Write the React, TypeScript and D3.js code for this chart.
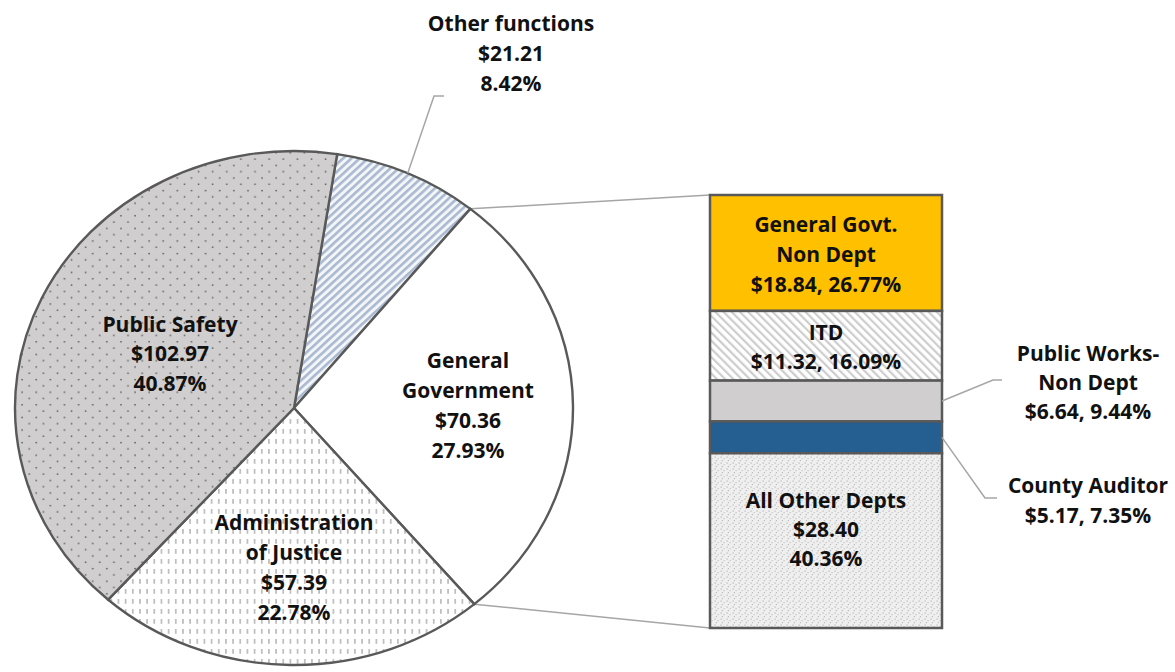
import React from "react";
import * as d3 from "d3";

// ---- data ----
const pieCategories = ["Other functions", "General Government", "Administration of Justice", "Public Safety"];
const pieValues = [21.21, 70.36, 57.39, 102.97];
const pieValueLabels = ["$21.21", "$70.36", "$57.39", "$102.97"];
const piePctLabels = ["8.42%", "27.93%", "22.78%", "40.87%"];

const barCategories = ["General Govt. Non Dept", "ITD", "Public Works-Non Dept", "County Auditor", "All Other Depts"];
const barValues = [18.84, 11.32, 6.64, 5.17, 28.4];
const barValueLabels = ["$18.84", "$11.32", "$6.64", "$5.17", "$28.40"];
const barPctLabels = ["26.77%", "16.09%", "9.44%", "7.35%", "40.36%"];

// ---- layout ----
const W = 1175, H = 672;
const cx = 294, cy = 408, ry = 257, rx = 279;
const startDeg = 8.9;
const barX0 = 710, barX1 = 942, barY0 = 195, barY1 = 628;
const FONT = "'Open Sans', sans-serif";
const FS = 21;

const pieFills = ["url(#pStripeBlue)", "#ffffff", "url(#pDash)", "url(#pDots)"];
const barFills = ["#ffc000", "url(#pStripeGray)", "#d0cece", "#255e91", "url(#pSpeckle)"];

function Lines({ x, y, lines, gap = 30 }: { x: number; y: number; lines: string[]; gap?: number }) {
  return (
    <text x={x} y={y} textAnchor="middle" fontFamily={FONT} fontWeight={700} fontSize={FS} fill="#111">
      {lines.map((l, i) => (
        <tspan key={i} x={x} y={y + i * gap} dy="0.36em">
          {l}
        </tspan>
      ))}
    </text>
  );
}

export default function App() {
  const start = (startDeg * Math.PI) / 180;
  const pie = d3.pie<number>().sort(null).value((d) => d).startAngle(start).endAngle(start + 2 * Math.PI);
  const arcs = pie(pieValues);
  const arcGen = d3.arc<d3.PieArcDatum<number>>().innerRadius(0).outerRadius(ry);
  const sx = rx / ry;
  const pt = (a: number) => [cx + rx * Math.sin(a), cy - ry * Math.cos(a)];

  const barTotal = d3.sum(barValues);
  const yScale = d3.scaleLinear().domain([0, barTotal]).range([barY0, barY1]);
  const cum = barValues.map((_, i) => d3.sum(barValues.slice(0, i)));

  const gg = arcs[1];
  const gStart = pt(gg.startAngle);
  const gEnd = pt(gg.endAngle);
  const otherMid = pt((arcs[0].startAngle + arcs[0].endAngle) / 2);

  const pwMid = yScale(cum[2] + barValues[2] / 2);
  const caMid = yScale(cum[3] + barValues[3] / 2);

  return (
    <svg width={W} height={H} style={{ position: "fixed", left: 0, top: 0, background: "#fff" }}>
      <defs>
        <pattern id="pDots" width={13} height={12.6} patternUnits="userSpaceOnUse">
          <rect width={13} height={12.6} fill="#d0cece" />
          <rect x={2.4} y={2.4} width={1.4} height={1.4} fill="#5a5a5a" />
          <rect x={8.9} y={8.7} width={1.4} height={1.4} fill="#5a5a5a" />
        </pattern>
        <pattern id="pStripeBlue" width={5.4} height={10} patternUnits="userSpaceOnUse" patternTransform="rotate(45)">
          <rect width={5.4} height={10} fill="#f4f5f7" />
          <rect x={0} y={0} width={2.5} height={10} fill="#a9b9d1" />
        </pattern>
        <pattern id="pStripeGray" width={5.8} height={10} patternUnits="userSpaceOnUse" patternTransform="rotate(-45)">
          <rect width={5.8} height={10} fill="#ffffff" />
          <rect x={0} y={0} width={2.2} height={10} fill="#cdcdcd" />
        </pattern>
        <pattern id="pDash" width={6.6} height={10} patternUnits="userSpaceOnUse">
          <rect width={6.6} height={10} fill="#ffffff" />
          <rect x={2.6} y={1} width={1.4} height={4.8} fill="#b4b4b4" />
        </pattern>
        <pattern id="pSpeckle" width={6} height={6} patternUnits="userSpaceOnUse">
          <rect width={6} height={6} fill="#efefef" />
          <rect x={0.5} y={0.5} width={1.2} height={1.2} fill="#b8b8b8" />
          <rect x={3.5} y={2} width={1.2} height={1.2} fill="#c4c4c4" />
          <rect x={1.8} y={4} width={1.2} height={1.2} fill="#bcbcbc" />
        </pattern>
      </defs>

      {/* connector lines */}
      <line x1={gStart[0]} y1={gStart[1]} x2={barX0} y2={barY0} stroke="#a6a6a6" strokeWidth={1.5} />
      <line x1={gEnd[0]} y1={gEnd[1]} x2={barX0} y2={barY1} stroke="#a6a6a6" strokeWidth={1.5} />

      {/* pie */}
      <g transform={`translate(${cx},${cy}) scale(${sx},1)`}>
        {arcs.map((a, i) => (
          <path
            key={pieCategories[i]}
            d={arcGen(a) || ""}
            fill={pieFills[i]}
            stroke="#595959"
            strokeWidth={2.4}
            vectorEffect="non-scaling-stroke"
          />
        ))}
      </g>

      {/* bar of pie */}
      {barValues.map((v, i) => (
        <rect
          key={barCategories[i]}
          x={barX0}
          y={yScale(cum[i])}
          width={barX1 - barX0}
          height={yScale(cum[i] + v) - yScale(cum[i])}
          fill={barFills[i]}
          stroke="#595959"
          strokeWidth={2.5}
        />
      ))}

      {/* leader lines */}
      <polyline
        points={`${otherMid[0]},${otherMid[1]} 434,96 444,96`}
        fill="none"
        stroke="#a6a6a6"
        strokeWidth={1.5}
      />
      <polyline points={`${barX1},${pwMid} 993,380 1002,380`} fill="none" stroke="#a6a6a6" strokeWidth={1.5} />
      <polyline points={`${barX1},${caMid} 985,498 997,498`} fill="none" stroke="#a6a6a6" strokeWidth={1.5} />

      {/* pie labels */}
      <Lines x={511} y={23} lines={[pieCategories[0], pieValueLabels[0], piePctLabels[0]]} />
      <Lines x={468} y={360} lines={["General", "Government", pieValueLabels[1], piePctLabels[1]]} />
      <Lines x={294} y={522} lines={["Administration", "of Justice", pieValueLabels[2], piePctLabels[2]]} />
      <Lines x={170} y={324} lines={[pieCategories[3], pieValueLabels[3], piePctLabels[3]]} gap={29.5} />

      {/* bar labels */}
      <Lines
        x={826}
        y={224.5}
        lines={["General Govt.", "Non Dept", `${barValueLabels[0]}, ${barPctLabels[0]}`]}
      />
      <Lines x={826} y={332.5} lines={[barCategories[1], `${barValueLabels[1]}, ${barPctLabels[1]}`]} gap={29} />
      <Lines x={826} y={500} lines={[barCategories[4], barValueLabels[4], barPctLabels[4]]} gap={29} />
      <Lines
        x={1088}
        y={353}
        lines={["Public Works-", "Non Dept", `${barValueLabels[2]}, ${barPctLabels[2]}`]}
        gap={29}
      />
      <Lines x={1088} y={485} lines={[barCategories[3], `${barValueLabels[3]}, ${barPctLabels[3]}`]} gap={30} />
    </svg>
  );
}
